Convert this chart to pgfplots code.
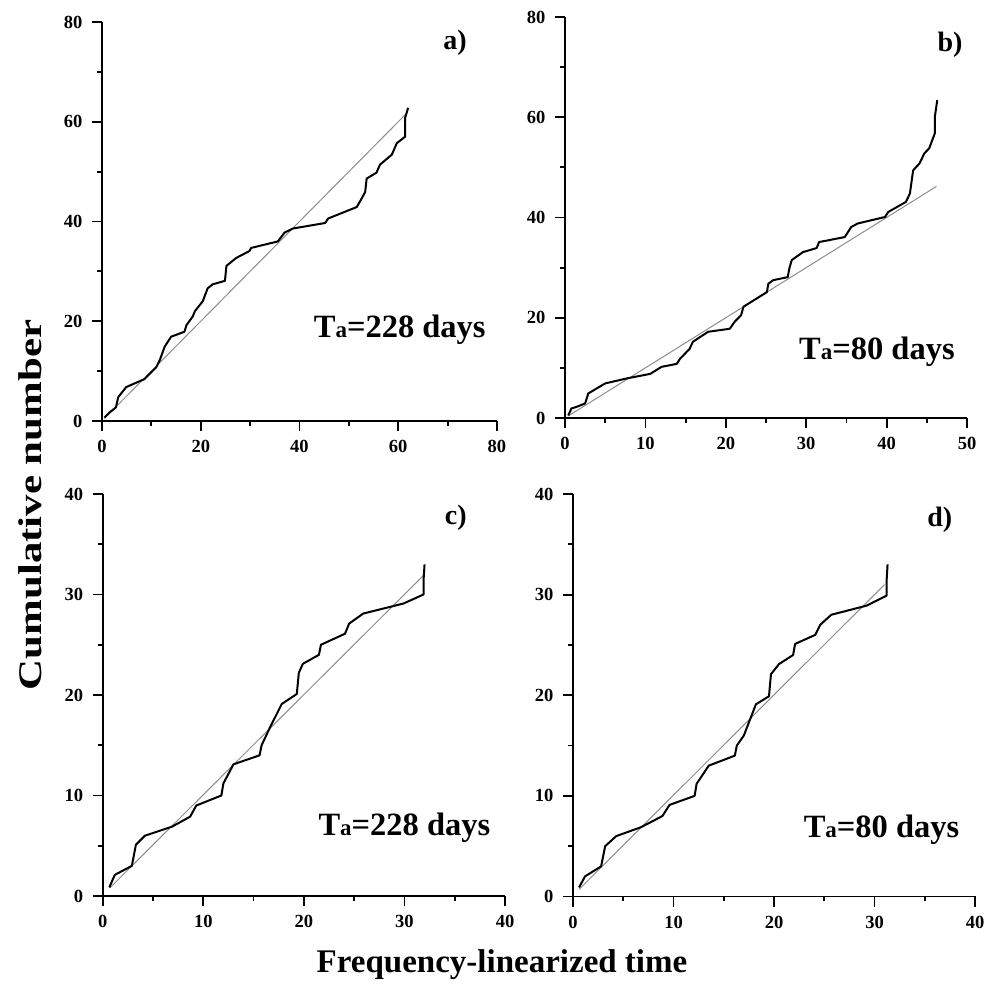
\documentclass[border=0pt]{standalone}
\usepackage{fontspec}
\setmainfont{Liberation Serif}
\usepackage{pgfplots}
\pgfplotsset{compat=1.18}
\newcommand{\Ta}[1]{{\fontsize{32.5bp}{32.5bp}\selectfont\bfseries T{\fontsize{23bp}{23bp}\selectfont a}=#1 days}}
\newcommand{\Pl}[1]{{\fontsize{28bp}{28bp}\selectfont\bfseries #1)}}
\pgfplotsset{
 panel/.style={
  scale only axis, axis x line=bottom, axis y line=left,
  axis line style={-, line width=1.8bp},
  tick style={line width=1.8bp, black},
  tick align=outside,
  major tick length=10bp, minor tick length=5bp,
  minor x tick num=1, minor y tick num=1,
  enlargelimits=false,
  ticklabel style={font=\fontsize{18.5bp}{18.5bp}\selectfont\bfseries},
  /pgf/number format/assume math mode=true,
  xticklabel style={yshift=-6bp},
  yticklabel style={xshift=-6bp},
  clip=false,
  anchor=south west,
 },
 curve/.style={black, line width=2bp, line join=round},
 fitl/.style={black!45, line width=1bp},
}
\begin{document}
\begin{tikzpicture}
\path (0bp,0bp) rectangle (996bp,995bp);
% a)
\begin{axis}[panel, at={(102bp,574bp)}, width=395bp, height=399bp,
  xmin=0, xmax=80, ymin=0, ymax=80, xtick={0,20,40,60,80}, ytick={0,20,40,60,80}]
\addplot[fitl] coordinates {(0.5,0.5) (61.5,61.5)};
\addplot[curve] coordinates {(0.5,0.7) (1.5,1.7) (2.8,2.7) (3.3,4.8) (4.9,6.8) (8.6,8.4) (11.0,10.8) (11.7,12.2) (12.7,14.9) (14.0,16.9) (16.7,17.9) (17.1,19.2) (18.4,21.0) (18.8,22.0) (20.4,24.0) (21.4,26.6) (22.4,27.4) (24.9,28.1) (25.2,31.1) (27.2,32.7) (29.9,34.1) (30.2,34.7) (35.6,36.0) (37.0,37.8) (38.7,38.6) (45.2,39.7) (45.8,40.6) (51.6,42.9) (52.3,44.1) (53.3,45.9) (53.6,48.6) (55.6,49.8) (56.3,51.4) (58.7,53.4) (59.7,55.7) (61.4,57.0) (61.4,60.8) (62.0,62.8)};
\node at (axis cs:71.5,75.8) {\Pl{a}};
\node at (axis cs:60.3,18.2) {\Ta{228}};
\end{axis}
% b)
\begin{axis}[panel, at={(565bp,577bp)}, width=402bp, height=401bp,
  xmin=0, xmax=50, ymin=0, ymax=80, xtick={0,10,20,30,40,50}, ytick={0,20,40,60,80}]
\addplot[fitl] coordinates {(0.4,0.4) (46.2,46.2)};
\addplot[curve] coordinates {(0.4,0.5) (0.8,1.9) (1.4,2.2) (2.5,2.9) (2.9,4.9) (5.0,6.9) (7.7,7.9) (10.6,8.8) (12.0,10.2) (13.9,10.8) (14.3,11.8) (15.5,13.8) (15.9,15.2) (17.8,17.2) (20.5,17.8) (21.1,19.2) (21.9,20.5) (22.2,22.2) (24.2,24.2) (25.1,25.1) (25.3,26.8) (25.9,27.5) (27.7,28.1) (27.9,29.8) (28.2,31.5) (29.6,33.1) (31.3,33.9) (31.6,35.1) (32.9,35.5) (34.8,36.1) (35.6,38.1) (36.4,38.8) (39.8,40.1) (40.2,41.1) (42.4,43.1) (42.9,44.8) (43.3,49.4) (44.1,50.8) (44.7,52.8) (45.3,53.8) (46.0,56.8) (46.0,60.1) (46.3,63.4)};
\node at (axis cs:47.9,74.4) {\Pl{b}};
\node at (axis cs:38.8,13.2) {\Ta{80}};
\end{axis}
% c)
\begin{axis}[panel, at={(102.7bp,99bp)}, width=402.3bp, height=402bp,
  xmin=0, xmax=40, ymin=0, ymax=40, xtick={0,10,20,30,40}, ytick={0,10,20,30,40}]
\addplot[fitl] coordinates {(0.7,0.8) (31.9,31.9)};
\addplot[curve] coordinates {(0.66,0.86) (1.2,2.1) (2.9,3.0) (3.3,5.1) (4.2,6.0) (6.9,6.9) (8.7,7.9) (9.3,9.0) (11.8,10.0) (12.0,11.2) (13.0,13.1) (15.6,14.0) (15.8,15.0) (16.6,16.7) (17.8,19.1) (19.3,20.1) (19.5,22.2) (19.9,23.1) (21.5,24.0) (21.7,25.0) (24.1,26.1) (24.5,27.1) (25.9,28.1) (29.9,29.1) (31.9,30.0) (31.9,31.4) (32.0,33.0)};
\node at (axis cs:35.1,37.6) {\Pl{c}};
\node at (axis cs:30.0,6.8) {\Ta{228}};
\end{axis}
% d)
\begin{axis}[panel, at={(573bp,98.5bp)}, width=402bp, height=402.5bp,
  xmin=0, xmax=40, ymin=0, ymax=40, xtick={0,10,20,30,40}, ytick={0,10,20,30,40}]
\addplot[fitl] coordinates {(0.6,0.7) (31.0,31.0)};
\addplot[curve] coordinates {(0.6,0.9) (1.2,2.0) (2.8,3.0) (3.2,5.0) (4.3,6.0) (6.8,6.9) (8.9,8.0) (9.6,9.1) (12.1,10.0) (12.3,11.2) (13.5,13.0) (16.1,14.0) (16.3,15.0) (17.0,16.0) (18.2,19.1) (19.5,19.9) (19.7,22.1) (20.5,23.1) (21.9,24.0) (22.1,25.1) (24.1,26.0) (24.6,27.0) (25.7,28.0) (29.2,28.9) (31.2,29.9) (31.2,31.3) (31.3,33.0)};
\node at (axis cs:36.5,37.4) {\Pl{d}};
\node at (axis cs:30.7,6.6) {\Ta{80}};
\end{axis}
\node[rotate=90] at (30bp,490bp) {\scalebox{1.3}[1]{\fontsize{33bp}{33bp}\selectfont\bfseries Cumulative number}};
\node at (502bp,30bp) {\fontsize{33bp}{33bp}\selectfont\bfseries Frequency-linearized time};
\end{tikzpicture}
\end{document}
